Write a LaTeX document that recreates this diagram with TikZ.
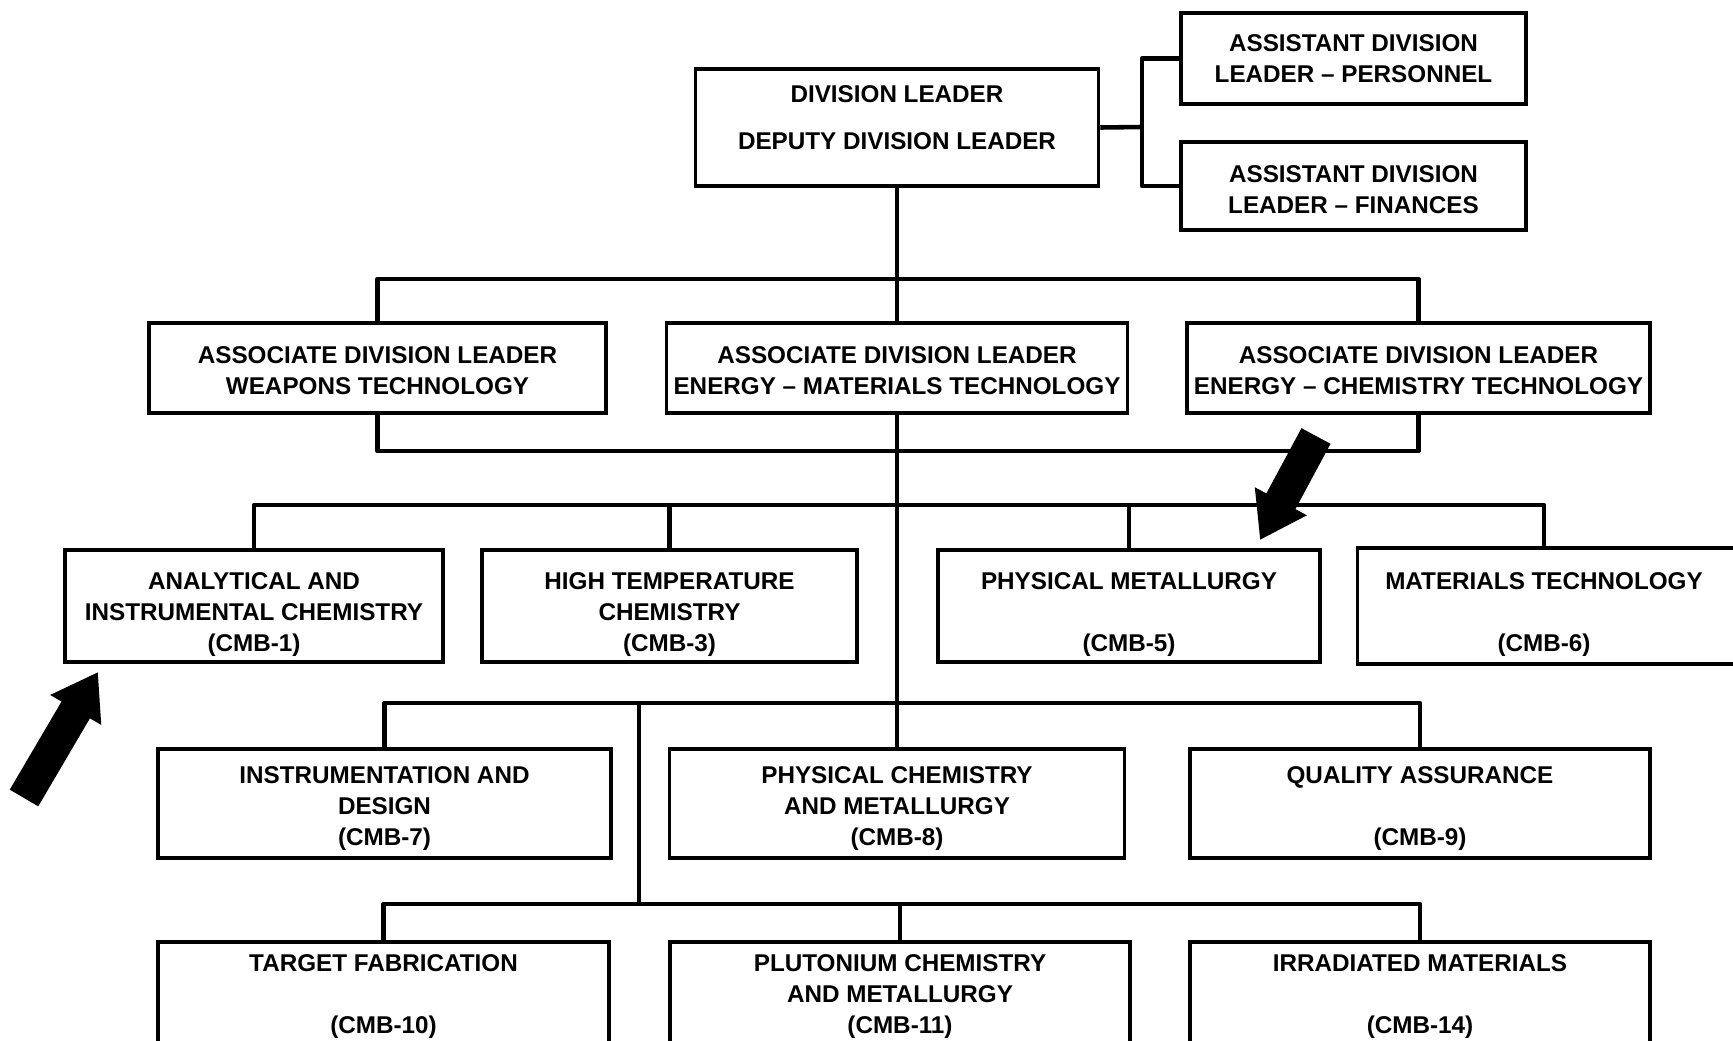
\documentclass[tikz,border=0pt]{standalone}
\usepackage{fontspec}
\setmainfont{Liberation Sans}
\usetikzlibrary{arrows.meta}

\tikzset{
	unit/.style={draw=black, line width=1pt, align=center, inner sep=0pt,
		font=\bfseries\fontsize{6.9}{8.8}\selectfont},
	tall/.style={text height=#1},
	conn/.style={black, line width=1.3pt, line join=round},
	pointer/.style={black, line width=3.3mm, -{Triangle[length=4.4mm, width=5.6mm]}}
}

\begin{document}
\begin{tikzpicture}[x=0.1mm, y=-0.1mm]
	\useasboundingbox (0,0) rectangle (1733,1041);
	\clip (0,0) rectangle (1733,1041);

	% Draw the leaders
	\node[unit, minimum width=40.3mm, minimum height=11.7mm] (dl) at (897,127.5) {DIVISION LEADER\\[4.6pt]DEPUTY DIVISION LEADER\\[-2.9pt]~};
	\node[unit, minimum width=34.5mm, minimum height=9.1mm] (adp) at (1353.5,58.5) {ASSISTANT DIVISION\\LEADER -- PERSONNEL};
	\node[unit, tall=15.7pt, minimum width=34.5mm, minimum height=8.8mm] (adf) at (1353.5,186) {ASSISTANT DIVISION\\LEADER -- FINANCES};

	\node[unit, tall=15pt, minimum width=45.7mm, minimum height=9mm] (adlw) at (377.5,368) {ASSOCIATE DIVISION LEADER\\WEAPONS TECHNOLOGY};
	\node[unit, tall=15pt, minimum width=46.1mm, minimum height=9mm] (adlm) at (897,368) {ASSOCIATE DIVISION LEADER\\ENERGY -- MATERIALS TECHNOLOGY};
	\node[unit, tall=15pt, minimum width=46.3mm, minimum height=9mm] (adlc) at (1418.5,368) {ASSOCIATE DIVISION LEADER\\ENERGY -- CHEMISTRY TECHNOLOGY};

	% Draw the groups
	\node[unit, tall=27.1pt, minimum width=37.8mm, minimum height=11.2mm] (cmb1) at (254,606) {ANALYTICAL AND\\INSTRUMENTAL CHEMISTRY\\(CMB-1)};
	\node[unit, tall=27.1pt, minimum width=37.5mm, minimum height=11.2mm] (cmb3) at (669.5,606) {HIGH TEMPERATURE\\CHEMISTRY\\(CMB-3)};
	\node[unit, tall=27.1pt, minimum width=38.2mm, minimum height=11.2mm] (cmb5) at (1129,606) {PHYSICAL METALLURGY\\~\\(CMB-5)};
	\node[unit, tall=27.1pt, draw=none, minimum width=37mm, minimum height=11.2mm] (cmb6) at (1544,606) {MATERIALS TECHNOLOGY\\~\\(CMB-6)};
	\draw[black, line width=1pt] (cmb6.north west) rectangle ([xshift=5mm]cmb6.south east);

	\node[unit, tall=25.1pt, minimum width=45.3mm, minimum height=10.9mm] (cmb7) at (384.5,803.5) {INSTRUMENTATION AND\\DESIGN\\(CMB-7)};
	\node[unit, tall=25.1pt, minimum width=45.5mm, minimum height=10.9mm] (cmb8) at (897,803.5) {PHYSICAL CHEMISTRY\\AND METALLURGY\\(CMB-8)};
	\node[unit, tall=25.1pt, minimum width=46mm, minimum height=10.9mm] (cmb9) at (1420,803.5) {QUALITY ASSURANCE\\~\\(CMB-9)};

	\node[unit, minimum width=45.1mm, minimum height=10.9mm] (cmb10) at (383.5,996.5) {TARGET FABRICATION\\~\\(CMB-10)};
	\node[unit, minimum width=46mm, minimum height=10.9mm] (cmb11) at (900,996.5) {PLUTONIUM CHEMISTRY\\AND METALLURGY\\(CMB-11)};
	\node[unit, minimum width=46mm, minimum height=10.9mm] (cmb14) at (1420,996.5) {IRRADIATED MATERIALS\\~\\(CMB-14)};

	% Draw the lines
	\coordinate (br) at (1142,127);
	\coordinate (b1) at (897,279);
	\coordinate (b2) at (897,451);
	\coordinate (b3) at (897,505);
	\coordinate (b4) at (897,703);
	\coordinate (b5) at (639,703);
	\coordinate (b6) at (900,904);

	\draw[conn] (dl.east) -- (br);
	\draw[conn] (adp.west) -| (br) |- (adf.west);
	\draw[conn] (dl.south) -- (adlm.north);
	\draw[conn] (adlw.north) |- (b1) -| (adlc.north);
	\draw[conn] (adlw.south) |- (b2) -| (adlc.south);
	\draw[conn] (adlm.south) -- (cmb8.north);

	\draw[conn] (cmb1.north) |- (b3) -| (cmb6.north);
	\draw[conn] (cmb3.north) -- (cmb3.north |- b3);
	\draw[conn] (cmb5.north) -- (cmb5.north |- b3);

	\draw[conn] (cmb7.north) |- (b4) -| (cmb9.north);
	\draw[conn] (b5) -- (b5 |- b6);
	\draw[conn] (cmb10.north) |- (b6) -| (cmb14.north);
	\draw[conn] (cmb11.north) -- (b6);

	% Draw the arrows
	\coordinate (p1) at (24,798);
	\coordinate (p1tip) at (98,672);
	\coordinate (p2) at (1316,436);
	\coordinate (p2tip) at (1260,540);
	\draw[pointer] (p1) -- (p1tip);
	\draw[pointer] (p2) -- (p2tip);

\end{tikzpicture}
\end{document}
